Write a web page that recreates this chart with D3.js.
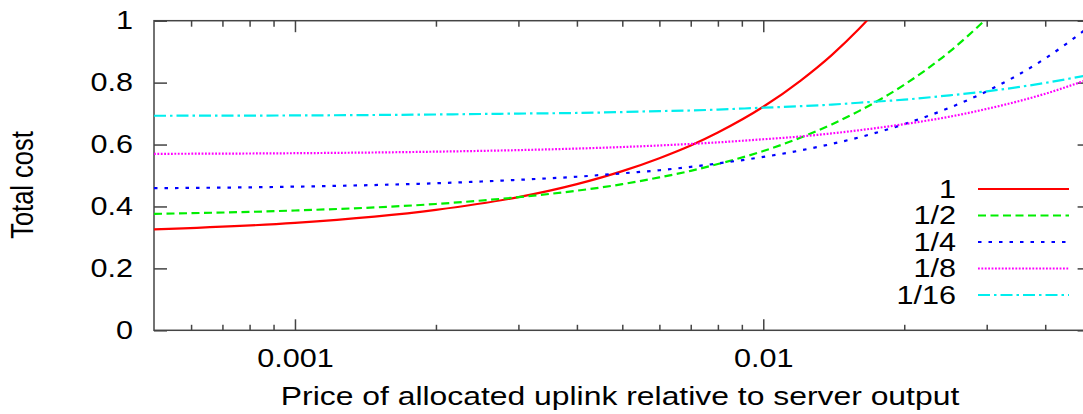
<!DOCTYPE html>
<html>
<head>
<meta charset="utf-8">
<script src="https://cdn.jsdelivr.net/npm/d3@7"></script>
<style>
  html, body { margin: 0; padding: 0; background: #fff; overflow: hidden; }
  text { font-family: "Liberation Sans", Arial, sans-serif; fill: #000; }
</style>
</head>
<body>
<svg width="1083" height="414"></svg>
<script>
// price of uplink (x) and total cost for each share (y)
var prices = [0.0005, 0.001, 0.002, 0.003, 0.004, 0.005, 0.006, 0.007, 0.008, 0.01,
              0.012, 0.014, 0.016, 0.02, 0.025, 0.03, 0.04, 0.05];
var cost_1    = [0.326, 0.347, 0.389, 0.430, 0.472, 0.514, 0.556, 0.597, 0.639, 0.722,
                 0.806, 0.889, 0.973, 1.14, null, null, null, null];
var cost_1_2  = [0.376, 0.387, 0.408, 0.430, 0.451, 0.472, 0.494, 0.515, 0.537, 0.579,
                 0.622, 0.665, 0.708, 0.793, 0.900, 1.007, null, null];
var cost_1_4  = [0.459, 0.464, 0.475, 0.486, 0.496, 0.507, 0.517, 0.528, 0.539, 0.560,
                 0.581, 0.602, 0.623, 0.666, 0.719, 0.772, 0.878, 0.984];
var cost_1_8  = [0.570, 0.572, 0.577, 0.582, 0.587, 0.592, 0.597, 0.602, 0.607, 0.617,
                 0.626, 0.636, 0.646, 0.666, 0.690, 0.715, 0.764, 0.813];
var cost_1_16 = [0.693, 0.694, 0.697, 0.700, 0.702, 0.705, 0.708, 0.710, 0.713, 0.719,
                 0.724, 0.729, 0.735, 0.745, 0.759, 0.772, 0.799, 0.826];
var names = ["1", "1/2", "1/4", "1/8", "1/16"];
var yTicks = [0, 0.2, 0.4, 0.6, 0.8, 1];
var xMajor = [0.001, 0.01];
var xMinor = [0.0006, 0.0007, 0.0008, 0.0009, 0.002, 0.003, 0.004, 0.005, 0.006,
              0.007, 0.008, 0.009, 0.02, 0.03, 0.04];

function draw_chart() {
  var series = [cost_1, cost_1_2, cost_1_4, cost_1_8, cost_1_16];
  var colors = ["#ff0000", "#00ee00", "#0000ff", "#ff00ff", "#00eeee"];
  var dashes = [null, "8,4.5", "3.5,7", "1.8,1.6", "12,4,2.5,4"];

  var svg = d3.select("svg"),
      pl = 154, pr = 1090.6, pt = 20.7, pb = 330.3,
      stretch = 1.2, fs = 25.5;

  svg.append("rect").attr("width", 1083).attr("height", 414).attr("fill", "#fff");

  var x = d3.scaleLog().domain([0.0005, 0.05]).range([pl, pr]),
      y = d3.scaleLinear().domain([0, 1]).range([pb, pt]);

  function style_axis(g) {
    g.select(".domain").remove();
    g.selectAll("line").attr("stroke", "#444").attr("stroke-width", 1.5);
    g.selectAll("text").attr("font-size", fs + "px").attr("fill", "#000")
     .attr("font-family", "Liberation Sans, Arial, sans-serif");
  }

  // bottom axis (ticks point inward)
  svg.append("g").attr("transform", "translate(0," + pb + ")")
     .call(d3.axisBottom(x).tickValues(xMajor).tickSize(-11).tickSizeOuter(0)
       .tickPadding(18.5).tickFormat(d3.format("~g")))
     .call(style_axis)
     .selectAll("text").attr("transform", "scale(" + stretch + ",1)");
  svg.append("g").attr("transform", "translate(0," + pb + ")")
     .call(d3.axisBottom(x).tickValues(xMinor).tickSize(-5.5).tickSizeOuter(0).tickFormat(""))
     .call(style_axis);
  // top axis mirror
  svg.append("g").attr("transform", "translate(0," + pt + ")")
     .call(d3.axisTop(x).tickValues(xMajor).tickSize(-11.5).tickSizeOuter(0).tickFormat(""))
     .call(style_axis);
  svg.append("g").attr("transform", "translate(0," + pt + ")")
     .call(d3.axisTop(x).tickValues(xMinor).tickSize(-6).tickSizeOuter(0).tickFormat(""))
     .call(style_axis);
  // left + right
  svg.append("g").attr("transform", "translate(" + pl + ",0)")
     .call(d3.axisLeft(y).tickValues(yTicks).tickSize(-13).tickSizeOuter(0)
       .tickPadding(17.5).tickFormat(d3.format("~g")))
     .call(style_axis)
     .selectAll("text").attr("transform", "scale(" + stretch + ",1)");
  svg.append("g").attr("transform", "translate(" + pr + ",0)")
     .call(d3.axisRight(y).tickValues(yTicks).tickSize(-13).tickSizeOuter(0).tickFormat(""))
     .call(style_axis);

  // frame
  svg.append("rect")
     .attr("x", pl).attr("y", pt)
     .attr("width", pr - pl).attr("height", pb - pt)
     .attr("fill", "none").attr("stroke", "#444").attr("stroke-width", 1.5);

  svg.append("clipPath").attr("id", "plot")
     .append("rect").attr("x", pl).attr("y", pt)
     .attr("width", pr - pl).attr("height", pb - pt);

  var line = d3.line()
      .defined(function(d) { return d[1] !== null; })
      .x(function(d) { return x(d[0]); })
      .y(function(d) { return y(d[1]); })
      .curve(d3.curveMonotoneX);

  svg.append("g").attr("clip-path", "url(#plot)")
     .selectAll("path")
     .data(series)
     .enter().append("path")
     .attr("d", function(s) { return line(s.map(function(v, i) { return [prices[i], v]; })); })
     .attr("fill", "none")
     .attr("stroke", function(s, i) { return colors[i]; })
     .attr("stroke-width", 2.2)
     .attr("stroke-dasharray", function(s, i) { return dashes[i]; });

  // legend
  var leg = svg.append("g").selectAll("g")
     .data(names)
     .enter().append("g")
     .attr("transform", function(d, i) { return "translate(0," + (189 + i * 26.5) + ")"; });
  leg.append("text")
     .attr("transform", "translate(956,8.5) scale(" + stretch + ",1)")
     .attr("text-anchor", "end")
     .attr("font-size", fs + "px")
     .text(function(d) { return d; });
  leg.append("line")
     .attr("x1", 978).attr("x2", 1069)
     .attr("stroke", function(d, i) { return colors[i]; })
     .attr("stroke-width", 2.2)
     .attr("stroke-dasharray", function(d, i) { return dashes[i]; });

  // axis titles
  svg.append("text")
     .attr("transform", "translate(620,405) scale(1.25,1)")
     .attr("text-anchor", "middle")
     .attr("font-size", fs + "px")
     .text("Price of allocated uplink relative to server output");
  svg.append("text")
     .attr("transform", "translate(33,185) scale(" + stretch + ",1) rotate(-90)")
     .attr("text-anchor", "middle")
     .attr("font-size", fs + "px")
     .text("Total cost");
}

draw_chart();
</script>
</body>
</html>
